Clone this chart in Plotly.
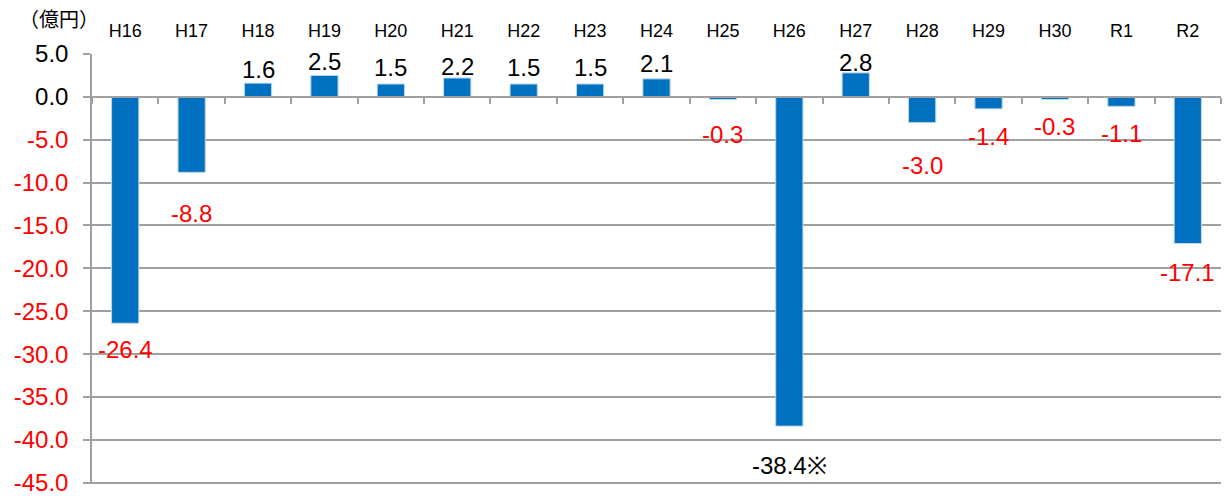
import plotly.graph_objects as go

categories = ["H16", "H17", "H18", "H19", "H20", "H21", "H22", "H23", "H24",
              "H25", "H26", "H27", "H28", "H29", "H30", "R1", "R2"]
values = [-26.4, -8.8, 1.6, 2.5, 1.5, 2.2, 1.5, 1.5, 2.1,
          -0.3, -38.4, 2.8, -3.0, -1.4, -0.3, -1.1, -17.1]
label_texts = ["-26.4", "-8.8", "1.6", "2.5", "1.5", "2.2", "1.5", "1.5", "2.1",
               "-0.3", "-38.4※", "2.8", "-3.0", "-1.4", "-0.3", "-1.1", "-17.1"]
# style: pixel distance of label centre from bar end
label_offsets_px = [26, 41, 14, 14, 17, 12, 17, 17, 15,
                    35, 39, 10, 43, 28, 27, 27, 29]
tick_vals = [5, 0, -5, -10, -15, -20, -25, -30, -35, -40, -45]
tick_texts = ["5.0", "0.0", "-5.0", "-10.0", "-15.0", "-20.0", "-25.0",
              "-30.0", "-35.0", "-40.0", "-45.0"]
unit_label = "（億円）"

FONT = "Liberation Sans, Arial, sans-serif"
GRID = "#A0A0A0"
Y_RANGE = [-45.15, 5.0]

fig = go.Figure()
fig.add_trace(go.Bar(
    x=categories, y=values, width=0.41,
    marker=dict(color="#0070C0", line=dict(color="#BDD7EE", width=1)),
    hoverinfo="x+y", showlegend=False,
))
# invisible trace to carry the top category axis
fig.add_trace(go.Scatter(x=categories, y=[0] * len(categories), xaxis="x2",
                         mode="markers", marker=dict(opacity=0),
                         hoverinfo="skip", showlegend=False))

annotations = []
for c, v, t, off in zip(categories, values, label_texts, label_offsets_px):
    neg = v < 0
    color = "red" if neg and not t.endswith("※") else "black"
    annotations.append(dict(
        x=c, y=v, xref="x", yref="y", text=t, showarrow=False,
        yanchor="middle", xanchor="center",
        yshift=-off if neg else off,
        font=dict(family=FONT, size=24, color=color),
    ))
annotations.append(dict(
    x=-0.066, y=1.083, xref="paper", yref="paper", text=unit_label,
    showarrow=False, xanchor="left", yanchor="middle",
    font=dict(family="Noto Sans CJK JP, sans-serif", size=20, color="black"),
))

ticktext = [
    (f'<span style="color:red">{t}</span>' if v < 0 else t)
    for v, t in zip(tick_vals, tick_texts)
]

zero_pos = (0 - Y_RANGE[0]) / (Y_RANGE[1] - Y_RANGE[0])

fig.update_layout(
    width=1229, height=496,
    margin=dict(l=92, r=8, t=54, b=12, autoexpand=False),
    paper_bgcolor="white", plot_bgcolor="white",
    bargap=0.59,
    annotations=annotations,
    xaxis=dict(
        type="category", categoryorder="array", categoryarray=categories,
        anchor="free", position=zero_pos, side="bottom", automargin=False,
        showline=True, linecolor=GRID, linewidth=1.5,
        ticks="outside", tickson="boundaries", ticklen=6, tickcolor=GRID,
        tickwidth=1.5, showticklabels=False, showgrid=False, zeroline=False,
        range=[-0.5, 16.5],
    ),
    xaxis2=dict(
        type="category", categoryorder="array", categoryarray=categories,
        overlaying="x", side="top", anchor="y", matches="x", automargin=False,
        showline=False, ticks="", showgrid=False, zeroline=False,
        tickfont=dict(family=FONT, size=18, color="black"),
        ticklabelstandoff=12,
    ),
    yaxis=dict(
        range=Y_RANGE, tickvals=tick_vals, ticktext=ticktext, automargin=False,
        showgrid=True, gridcolor=GRID, gridwidth=1.5,
        showline=True, linecolor=GRID, linewidth=1.5,
        ticks="outside", ticklen=7, tickcolor=GRID, tickwidth=1.5,
        zeroline=False, ticklabeloverflow="allow",
        tickfont=dict(family=FONT, size=24, color="black"),
        ticklabelstandoff=10,
    ),
)

fig.write_html("out.html")
